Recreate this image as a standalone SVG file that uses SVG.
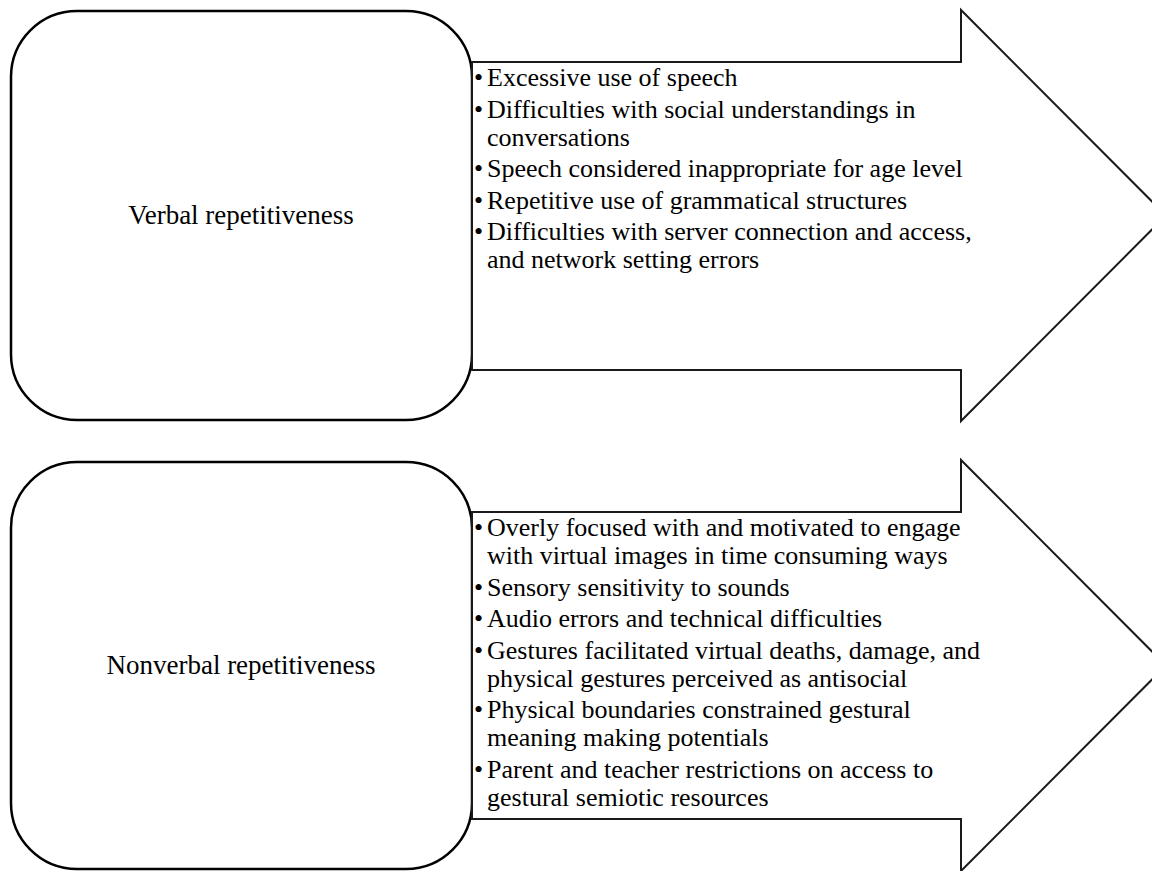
<svg xmlns="http://www.w3.org/2000/svg" width="1152" height="871" viewBox="0 0 1152 871" font-family="'Liberation Serif', 'Times New Roman', Times, serif">
  <style>
    .box { fill: #ffffff; stroke: #000000; stroke-width: 2.5; }
    .arrow { fill: #ffffff; stroke: #1a1a1a; stroke-width: 2; stroke-linejoin: miter; }
    text { font-family: 'Liberation Serif', 'Times New Roman', Times, serif; font-size: 26px; fill: #000000; }
    .label { text-anchor: middle; font-size: 27px; }
  </style>
  <rect width="1152" height="871" fill="#ffffff"/>

  <!-- Verbal group -->
  <g id="verbal-box">
    <rect class="box" x="11" y="11" width="461" height="409" rx="66" ry="66"/>
    <text class="label" x="241" y="224">Verbal repetitiveness</text>
  </g>
  <g id="verbal-arrow">
    <polygon class="arrow" points="472,62 961,62 961,10 1166,215.5 961,421 961,370 472,370"/>
    <text x="474" y="86">•</text>
    <text x="474" y="117.5">•</text>
    <text x="474" y="177">•</text>
    <text x="474" y="208.5">•</text>
    <text x="474" y="240">•</text>
    <text x="487" y="86">Excessive use of speech</text>
    <text x="487" y="117.5">Difficulties with social understandings in</text>
    <text x="487" y="145.5">conversations</text>
    <text x="487" y="177">Speech considered inappropriate for age level</text>
    <text x="487" y="208.5">Repetitive use of grammatical structures</text>
    <text x="487" y="240">Difficulties with server connection and access,</text>
    <text x="487" y="268">and network setting errors</text>
  </g>

  <!-- Nonverbal group -->
  <g id="nonverbal-box">
    <rect class="box" x="11" y="462" width="461" height="407" rx="66" ry="66"/>
    <text class="label" x="241" y="674">Nonverbal repetitiveness</text>
  </g>
  <g id="nonverbal-arrow">
    <polygon class="arrow" points="472,512 961,512 961,460 1166,665.5 961,871 961,819 472,819"/>
    <text x="474" y="536">•</text>
    <text x="474" y="595.5">•</text>
    <text x="474" y="627">•</text>
    <text x="474" y="658.5">•</text>
    <text x="474" y="718">•</text>
    <text x="474" y="777.5">•</text>
    <text x="487" y="536">Overly focused with and motivated to engage</text>
    <text x="487" y="564">with virtual images in time consuming ways</text>
    <text x="487" y="595.5">Sensory sensitivity to sounds</text>
    <text x="487" y="627">Audio errors and technical difficulties</text>
    <text x="487" y="658.5">Gestures facilitated virtual deaths, damage, and</text>
    <text x="487" y="686.5">physical gestures perceived as antisocial</text>
    <text x="487" y="718">Physical boundaries constrained gestural</text>
    <text x="487" y="746">meaning making potentials</text>
    <text x="487" y="777.5">Parent and teacher restrictions on access to</text>
    <text x="487" y="805.5">gestural semiotic resources</text>
  </g>

  <!-- the arrows carry the items; no separate connector lines -->
  <g id="connectors"/>
</svg>
